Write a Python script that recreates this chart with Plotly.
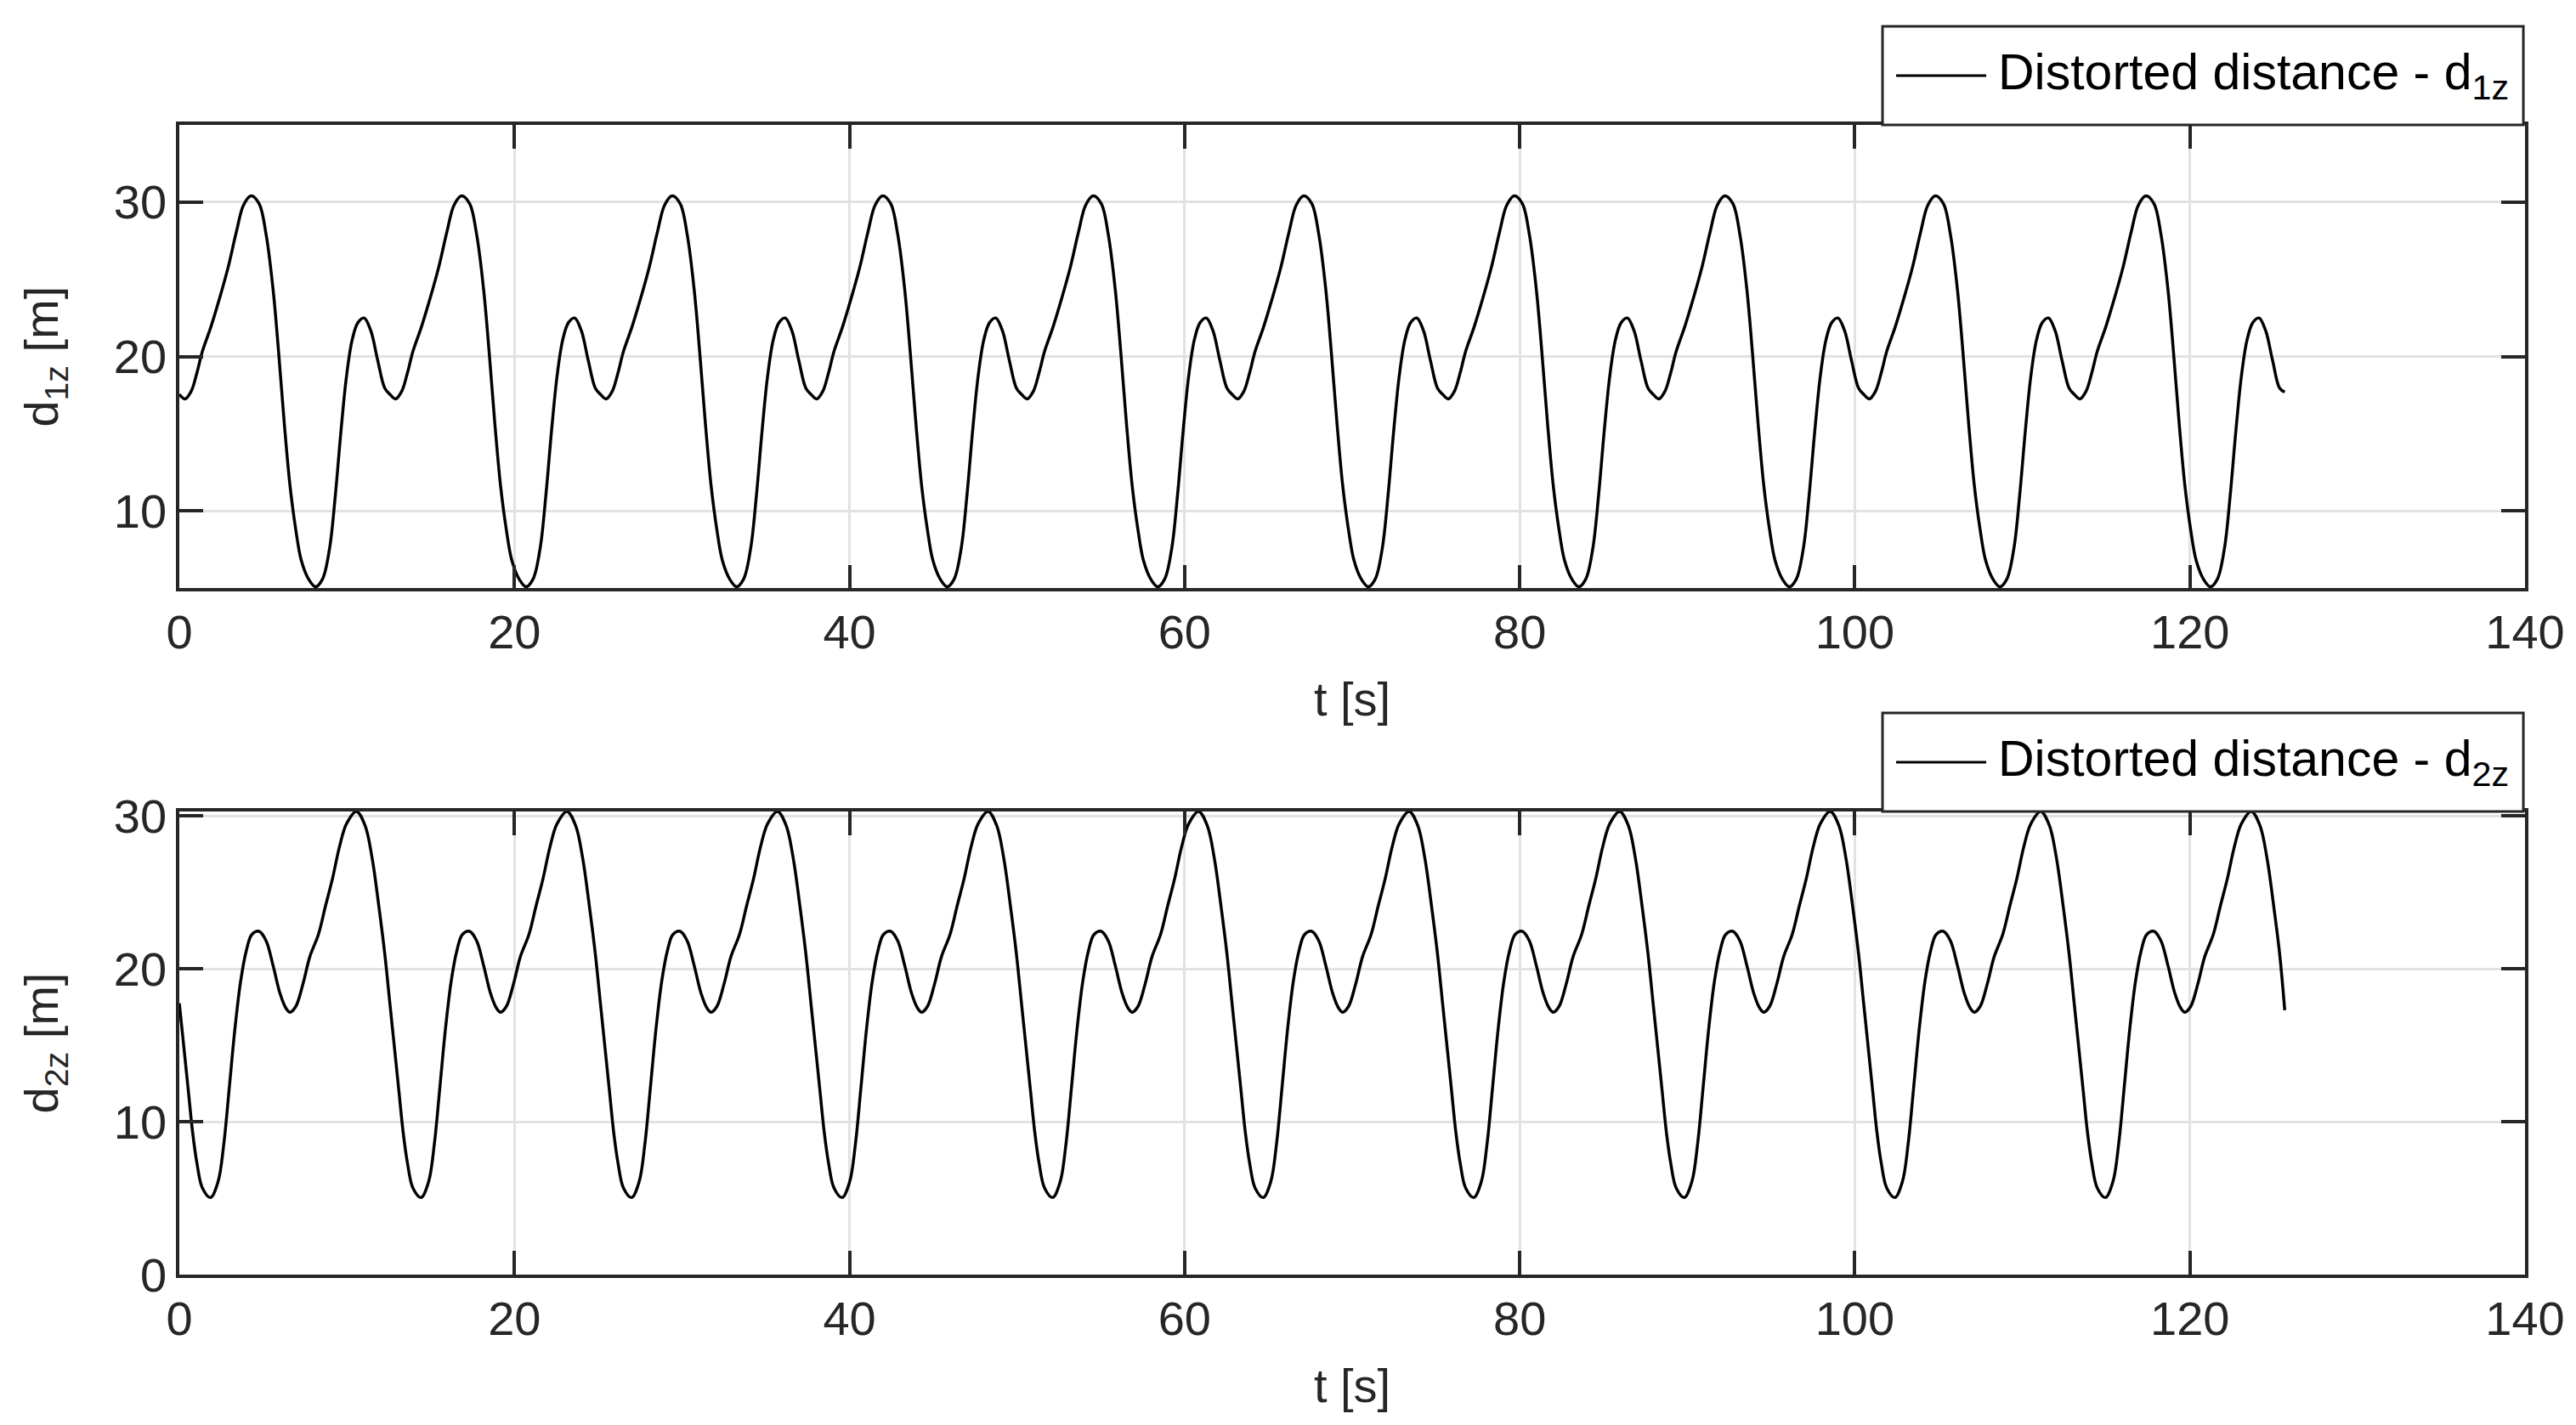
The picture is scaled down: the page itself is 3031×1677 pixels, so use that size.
import plotly.graph_objects as go

# one cycle of each signal (t in s, distance in m)
period = 12.566
n_cycles = 10

t1_cycle = [0, 0.34, 0.71, 1.05, 1.38, 1.89, 2.39, 2.9, 3.41, 3.83, 4.28, 4.76,
            5.18, 5.6, 5.94, 6.27, 6.61, 6.95, 7.28, 7.71, 8.13, 8.55, 8.97, 9.31,
            9.65, 9.98, 10.32, 10.66, 11.03, 11.42, 11.84, 12.26]
d1_cycle = [17.56, 17.26, 17.76, 18.95, 20.35, 21.94, 23.73, 25.72, 28.1, 29.8, 30.4, 29.9,
            27.9, 24.3, 20.1, 15.6, 11.6, 8.8, 6.8, 5.6, 5.1, 5.6, 7.6, 11.0,
            15.2, 18.75, 21.1, 22.2, 22.5, 21.7, 19.75, 17.96]

t2_cycle = [0, 0.29, 0.54, 0.79, 1.05, 1.38, 1.86, 2.31, 2.65, 2.98, 3.32, 3.66,
            4.0, 4.33, 4.76, 5.18, 5.6, 6.02, 6.36, 6.61, 6.95, 7.37, 7.79, 8.3,
            8.72, 9.14, 9.56, 9.98, 10.57, 11.08, 11.5, 11.92, 12.26]
d2_cycle = [17.75, 14.67, 12.0, 9.34, 7.3, 5.66, 5.04, 6.07, 8.5, 12.2, 16.1, 19.2,
            21.2, 22.25, 22.46, 21.84, 20.2, 18.36, 17.44, 17.17, 17.54, 18.98, 20.8, 22.25,
            24.1, 25.9, 28.0, 29.5, 30.3, 29.4, 27.3, 24.0, 21.0]

d1_end = 17.7
d2_end = 17.3

x_ticks = [0, 20, 40, 60, 80, 100, 120, 140]
y1_ticks = [10, 20, 30]
y2_ticks = [0, 10, 20, 30]


def build_series(t_cycle, d_cycle, d_end):
    t = [k * period + tc for k in range(n_cycles) for tc in t_cycle]
    d = [v for k in range(n_cycles) for v in d_cycle]
    return t + [n_cycles * period], d + [d_end]


t1, d1 = build_series(t1_cycle, d1_cycle, d1_end)
t2, d2 = build_series(t2_cycle, d2_cycle, d2_end)

AX = '#262626'
TICK_FONT = dict(family='Liberation Sans, Arial, sans-serif', size=56, color=AX)
LEG_FONT = dict(family='Liberation Sans, Arial, sans-serif', size=59, color='black')

fig = go.Figure()
fig.add_trace(go.Scatter(x=t1, y=d1, mode='lines', line=dict(color='black', width=3.5, shape='spline'),
                         xaxis='x', yaxis='y', showlegend=False))
fig.add_trace(go.Scatter(x=t2, y=d2, mode='lines', line=dict(color='black', width=3.5, shape='spline'),
                         xaxis='x2', yaxis='y2', showlegend=False))

axis_style = dict(showline=True, linecolor=AX, linewidth=3.5, mirror='ticks',
                  ticks='inside', ticklen=28, tickwidth=3.5, tickcolor=AX,
                  showgrid=True, gridcolor='#e2e2e2', gridwidth=2.5,
                  zeroline=False, tickfont=TICK_FONT, automargin=False)

fig.update_layout(
    width=3031, height=1677,
    paper_bgcolor='white', plot_bgcolor='white',
    margin=dict(l=203, r=68, t=139, b=185),
    xaxis=dict(axis_style, domain=[0, 1], range=[0, 140], tickvals=x_ticks, anchor='y',
               title=dict(text='t [s]', font=TICK_FONT, standoff=30)),
    yaxis=dict(axis_style, domain=[0.597, 1.0], range=[5, 35], tickvals=y1_ticks, anchor='x',
               title=dict(text='d<sub>1z</sub> [m]', font=TICK_FONT, standoff=48)),
    xaxis2=dict(axis_style, domain=[0, 1], range=[0, 140], tickvals=x_ticks, anchor='y2',
                title=dict(text='t [s]', font=TICK_FONT, standoff=30)),
    yaxis2=dict(axis_style, domain=[0, 0.4028], range=[0, 30.3], tickvals=y2_ticks, anchor='x2',
                title=dict(text='d<sub>2z</sub> [m]', font=TICK_FONT, standoff=48)),
)

# MATLAB-style legend boxes above each panel
for y0, label in [(1.0, 'Distorted distance - d<sub>1z</sub>'),
                  (0.4028, 'Distorted distance - d<sub>2z</sub>')]:
    y1 = y0 + 0.0857
    ym = (y0 + y1) / 2
    fig.add_shape(type='rect', xref='paper', yref='paper', x0=0.7261, x1=0.9993, y0=y0, y1=y1,
                  line=dict(color=AX, width=3), fillcolor='white', layer='above')
    fig.add_shape(type='line', xref='paper', yref='paper', x0=0.7319, x1=0.7703, y0=ym, y1=ym,
                  line=dict(color='black', width=3))
    fig.add_annotation(xref='paper', yref='paper', x=0.7745, y=ym, text=label, showarrow=False,
                       xanchor='left', yanchor='middle', font=LEG_FONT)

fig.write_html("out.html")
